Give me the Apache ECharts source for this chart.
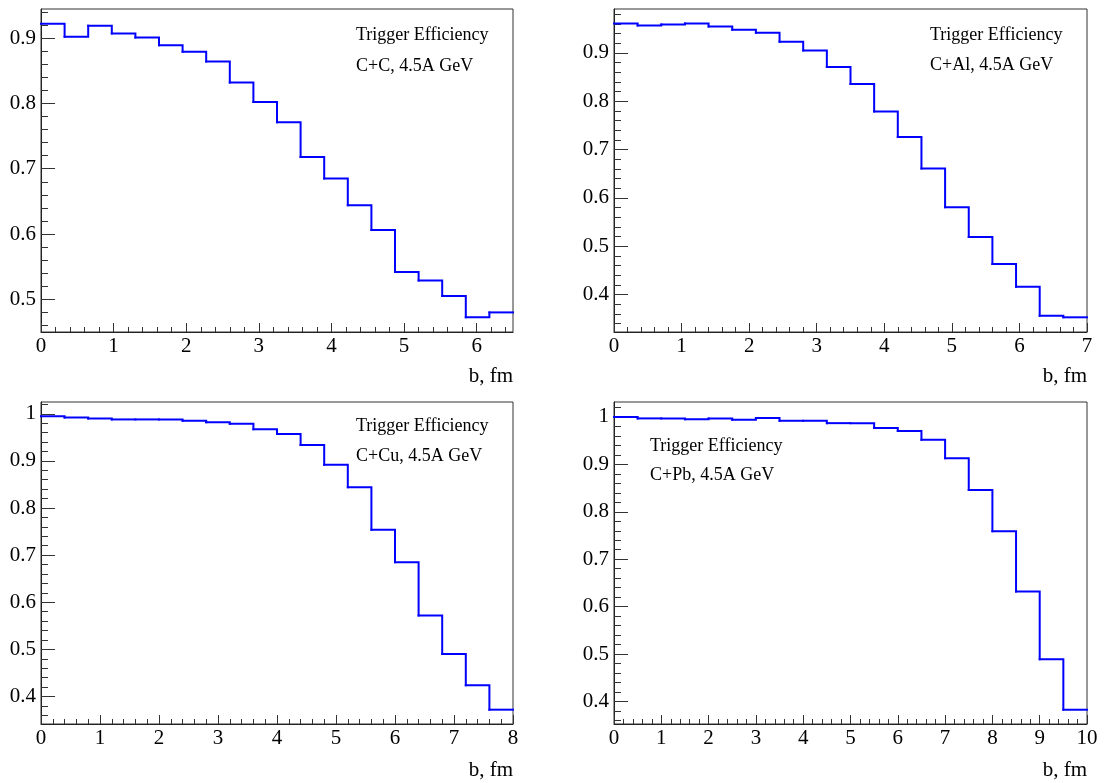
<!DOCTYPE html>
<html>
<head>
<meta charset="utf-8">
<script src="https://cdn.jsdelivr.net/npm/echarts@6/dist/echarts.min.js"></script>
<style>
html,body{margin:0;padding:0;background:#fff;}
#chart{width:1107px;height:783px;}
</style>
</head>
<body>
<div id="chart"></div>
<script>
// ---- data ----
// Each histogram: 20 equal bins between xRange[0] and xRange[1]
const ccXRange = [0, 6.5];
const ccValues = [0.922, 0.902, 0.919, 0.907, 0.901, 0.889, 0.879, 0.864, 0.832, 0.802,
                  0.771, 0.718, 0.685, 0.644, 0.606, 0.542, 0.529, 0.505, 0.4725, 0.480];
const ccYRange = [0.450, 0.9445];
const ccXTicks = [0, 1, 2, 3, 4, 5, 6];
const ccYTicks = [0.5, 0.6, 0.7, 0.8, 0.9];

const calXRange = [0, 7];
const calValues = [0.961, 0.957, 0.959, 0.961, 0.955, 0.948, 0.942, 0.923, 0.905, 0.871,
                   0.836, 0.779, 0.726, 0.661, 0.581, 0.519, 0.4635, 0.416, 0.356, 0.353];
const calYRange = [0.3226, 0.991];
const calXTicks = [0, 1, 2, 3, 4, 5, 6, 7];
const calYTicks = [0.4, 0.5, 0.6, 0.7, 0.8, 0.9];

const ccuXRange = [0, 8];
const ccuValues = [0.995, 0.992, 0.990, 0.988, 0.988, 0.988, 0.985, 0.982, 0.979, 0.967,
                   0.957, 0.934, 0.892, 0.844, 0.754, 0.685, 0.572, 0.490, 0.424, 0.372];
const ccuYRange = [0.3416, 1.0250];
const ccuXTicks = [0, 1, 2, 3, 4, 5, 6, 7, 8];
const ccuYTicks = [0.4, 0.5, 0.6, 0.7, 0.8, 0.9, 1];

const cpbXRange = [0, 10];
const cpbValues = [1.000, 0.997, 0.997, 0.995, 0.997, 0.994, 0.998, 0.992, 0.992, 0.987,
                   0.987, 0.977, 0.9705, 0.952, 0.913, 0.846, 0.759, 0.632, 0.489, 0.3825];
const cpbYRange = [0.3524, 1.0316];
const cpbXTicks = [0, 1, 2, 3, 4, 5, 6, 7, 8, 9, 10];
const cpbYTicks = [0.4, 0.5, 0.6, 0.7, 0.8, 0.9, 1];

const panelTitle = 'Trigger Efficiency';
const panelLabels = ['C+C, 4.5A GeV', 'C+Al, 4.5A GeV', 'C+Cu, 4.5A GeV', 'C+Pb, 4.5A GeV'];
const xTitle = 'b, fm';

// ---- layout / style ----
const FONT = '"Liberation Serif", "Times New Roman", serif';
const grids = [
  {left: 41, top: 9, width: 472, height: 323},
  {left: 614, top: 9, width: 473, height: 323},
  {left: 41, top: 402, width: 472, height: 322},
  {left: 614, top: 402, width: 473, height: 322}
];
const panels = [
  {xr: ccXRange, vals: ccValues, yr: ccYRange, xt: ccXTicks, yt: ccYTicks},
  {xr: calXRange, vals: calValues, yr: calYRange, xt: calXTicks, yt: calYTicks},
  {xr: ccuXRange, vals: ccuValues, yr: ccuYRange, xt: ccuXTicks, yt: ccuYTicks},
  {xr: cpbXRange, vals: cpbValues, yr: cpbYRange, xt: cpbXTicks, yt: cpbYTicks}
];
const textPos = [
  {x: 356, y1: 35, y2: 66, tx: 513, ty: 376},
  {x: 930, y1: 35, y2: 65, tx: 1087, ty: 376},
  {x: 356, y1: 426.5, y2: 456, tx: 513, ty: 770},
  {x: 650, y1: 446, y2: 475, tx: 1087, ty: 770}
];

function minorTicks(lo, hi, step) {
  const out = [];
  const start = Math.ceil(lo / step - 1e-9);
  for (let k = start; k * step <= hi + 1e-9; k++) {
    out.push(Math.round(k * step * 10000) / 10000);
  }
  return out;
}

function renderBin(params, api) {
  const x0 = api.value(0), x1 = api.value(1), v = api.value(2), vn = api.value(3);
  const pts = [api.coord([x0, v]), api.coord([x1, v]), api.coord([x1, vn])];
  return {
    type: 'polyline',
    shape: {points: pts},
    style: {stroke: '#0000ff', lineWidth: 2, fill: null, lineJoin: 'miter', lineCap: 'square'}
  };
}

const xAxes = [], yAxes = [], series = [], graphics = [];
const tickColor = '#333';
panels.forEach((p, i) => {
  const xMinor = minorTicks(p.xr[0], p.xr[1], 0.2);
  const yMinor = minorTicks(p.yr[0], p.yr[1], 0.02);
  // major x
  xAxes.push({
    gridIndex: i, type: 'value', min: p.xr[0], max: p.xr[1], position: 'bottom',
    axisLine: {show: true, lineStyle: {color: '#222', width: 1}},
    axisTick: {show: true, inside: true, length: 9, customValues: p.xt, lineStyle: {color: tickColor, width: 1}},
    axisLabel: {show: true, customValues: p.xt, margin: 4, fontSize: 21, fontFamily: FONT, color: '#000', hideOverlap: false},
    splitLine: {show: false}
  });
  // minor x
  xAxes.push({
    gridIndex: i, type: 'value', min: p.xr[0], max: p.xr[1], position: 'bottom',
    axisLine: {show: false},
    axisTick: {show: true, inside: true, length: 5, customValues: xMinor, lineStyle: {color: tickColor, width: 1}},
    axisLabel: {show: false},
    splitLine: {show: false}
  });
  // major y
  yAxes.push({
    gridIndex: i, type: 'value', min: p.yr[0], max: p.yr[1], position: 'left',
    axisLine: {show: true, lineStyle: {color: '#222', width: 1}},
    axisTick: {show: true, inside: true, length: 14, customValues: p.yt, lineStyle: {color: tickColor, width: 1}},
    axisLabel: {show: true, customValues: p.yt, margin: 5, fontSize: 21, fontFamily: FONT, color: '#000', hideOverlap: false},
    splitLine: {show: false}
  });
  // minor y
  yAxes.push({
    gridIndex: i, type: 'value', min: p.yr[0], max: p.yr[1], position: 'left',
    axisLine: {show: false},
    axisTick: {show: true, inside: true, length: 7, customValues: yMinor, lineStyle: {color: tickColor, width: 1}},
    axisLabel: {show: false},
    splitLine: {show: false}
  });
  // histogram bins: [start, end, value, next value]
  const n = p.vals.length;
  const w = (p.xr[1] - p.xr[0]) / n;
  const bins = p.vals.map((v, k) => [
    p.xr[0] + k * w,
    p.xr[0] + (k + 1) * w,
    v,
    k < n - 1 ? p.vals[k + 1] : v
  ]);
  series.push({
    type: 'custom', xAxisIndex: 2 * i, yAxisIndex: 2 * i,
    data: bins, encode: {x: [0, 1], y: [2, 3]},
    renderItem: renderBin, animation: false, z: 1, silent: true
  });
  const tp = textPos[i];
  graphics.push({type: 'text', x: tp.x, y: tp.y1, style: {text: panelTitle, font: '18px ' + FONT, fill: '#000', textAlign: 'left', textVerticalAlign: 'middle'}});
  graphics.push({type: 'text', x: tp.x, y: tp.y2, style: {text: panelLabels[i], font: '18px ' + FONT, fill: '#000', textAlign: 'left', textVerticalAlign: 'middle'}});
  graphics.push({type: 'text', x: tp.tx, y: tp.ty, style: {text: xTitle, font: '21px ' + FONT, fill: '#000', textAlign: 'right', textVerticalAlign: 'middle'}});
});

const chart = echarts.init(document.getElementById('chart'), null, {renderer: 'canvas'});
chart.setOption({
  backgroundColor: '#fff',
  animation: false,
  grid: grids.map(g => Object.assign({show: true, borderColor: '#333', borderWidth: 1, backgroundColor: 'transparent', containLabel: false}, g)),
  xAxis: xAxes,
  yAxis: yAxes,
  series: series,
  graphic: graphics
});
</script>
</body>
</html>
